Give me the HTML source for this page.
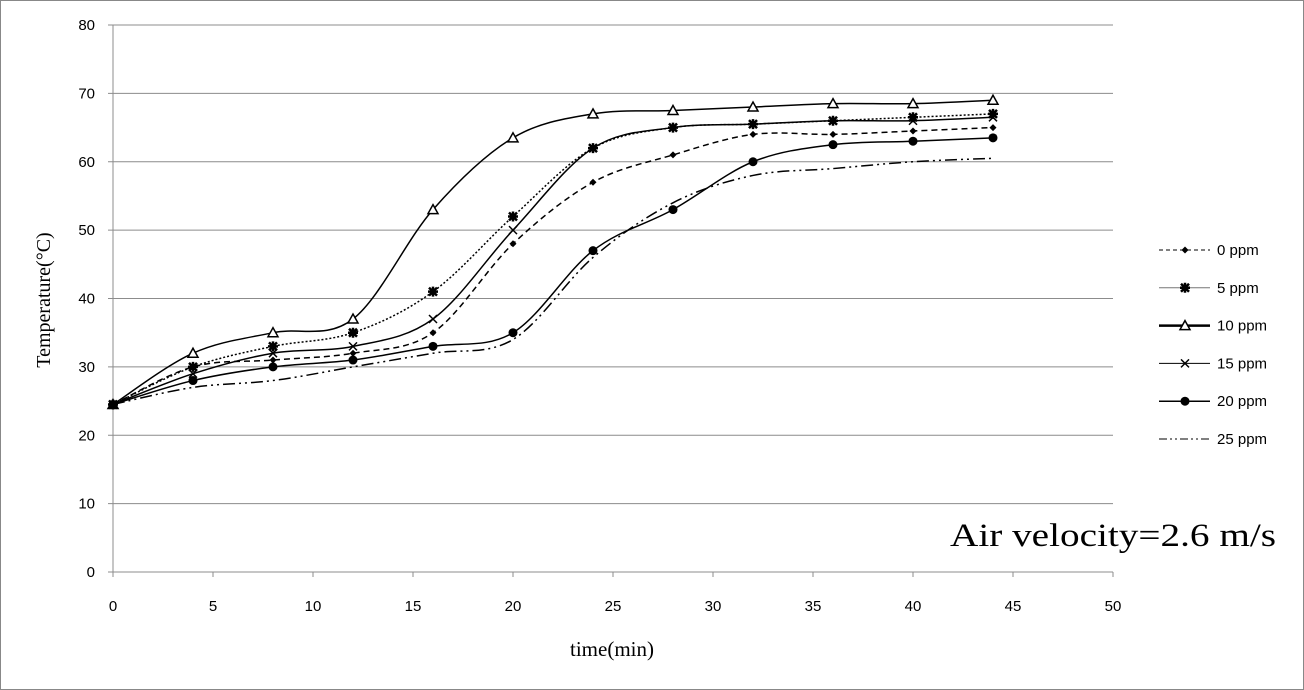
<!DOCTYPE html>
<html><head><meta charset="utf-8"><style>
html,body{margin:0;padding:0;background:#fff}
svg{display:block}
.t{font-family:"Liberation Sans",sans-serif;font-size:15px;fill:#000}
.s{font-family:"Liberation Serif",serif;fill:#000}
</style></head><body>
<svg id="c" width="1304" height="690" xmlns="http://www.w3.org/2000/svg">
<rect x="0.5" y="0.5" width="1303" height="689" fill="#fff" stroke="#888"/>
<g id="grid"></g><g id="axes"></g><g id="series"></g><g id="legend"></g>
<text class="s" x="612" y="656" font-size="21" text-anchor="middle">time(min)</text>
<text class="s" x="50" y="300" font-size="20" text-anchor="middle" transform="rotate(-90 50 300)">Temperature(°C)</text>
<text class="s" x="950" y="546" font-size="33" textLength="326" lengthAdjust="spacingAndGlyphs">Air velocity=2.6 m/s</text>
</svg>
<script>
const times=[0,4,8,12,16,20,24,28,32,36,40,44];
const s0=[24.5,30,31,32,35,48,57,61,64,64,64.5,65];
const s5=[24.5,30,33,35,41,52,62,65,65.5,66,66.5,67];
const s10=[24.5,32,35,37,53,63.5,67,67.5,68,68.5,68.5,69];
const s15=[24.5,29,32,33,37,50,62,65,65.5,66,66,66.5];
const s20=[24.5,28,30,31,33,35,47,53,60,62.5,63,63.5];
const s25=[24.5,27,28,30,32,34,46,54,58,59,60,60.5];
const seriesNames=["0 ppm","5 ppm","10 ppm","15 ppm","20 ppm","25 ppm"];
const xTicks=[0,5,10,15,20,25,30,35,40,45,50];
const yTicks=[0,10,20,30,40,50,60,70,80];
const NS="http://www.w3.org/2000/svg";
const X=v=>113+v*20, Y=v=>572-v*547/80;
function mk(tag,attrs,parent){const e=document.createElementNS(NS,tag);for(const k in attrs)e.setAttribute(k,attrs[k]);parent.appendChild(e);return e;}
const grid=document.getElementById('grid'),axes=document.getElementById('axes'),ser=document.getElementById('series'),leg=document.getElementById('legend');
yTicks.forEach(v=>{
 if(v>0){const l=mk('line',{x1:113,x2:1113,y1:Y(v),y2:Y(v),stroke:'#8c8c8c','stroke-width':1},grid);
 
 }
 const tk=mk('line',{x1:108,x2:113,y1:Y(v),y2:Y(v),stroke:'#8c8c8c'},axes);
 
 
 const t=mk('text',{x:95,y:Y(v)+5,'text-anchor':'end',class:'t'},axes);t.textContent=v;
 
 
});
xTicks.forEach(v=>{
 const tk=mk('line',{x1:X(v),x2:X(v),y1:572,y2:577,stroke:'#8c8c8c'},axes);
 
 
 const t=mk('text',{x:X(v),y:611,'text-anchor':'middle',class:'t'},axes);t.textContent=v;
 
 
});
const ya=mk('line',{x1:113,x2:113,y1:Y(80),y2:572,stroke:'#8c8c8c'},axes);


const xa=mk('line',{x1:113,x2:1113,y1:572,y2:572,stroke:'#8c8c8c'},axes);


function smooth(pts){let d=`M${pts[0][0]},${pts[0][1]}`;for(let i=0;i<pts.length-1;i++){const p0=pts[i-1]||pts[i],p1=pts[i],p2=pts[i+1],p3=pts[i+2]||p2;const t=0.5/3*2;
 const c1=[p1[0]+(p2[0]-p0[0])*t/2,p1[1]+(p2[1]-p0[1])*t/2],c2=[p2[0]-(p3[0]-p1[0])*t/2,p2[1]-(p3[1]-p1[1])*t/2];
 d+=` C${c1[0]},${c1[1]} ${c2[0]},${c2[1]} ${p2[0]},${p2[1]}`;}return d;}
function marker(type,x,y,g){
 if(type==='diamond')return mk('path',{d:`M${x},${y-3.5}L${x+3.5},${y}L${x},${y+3.5}L${x-3.5},${y}Z`,fill:'#000'},g);
 if(type==='star'){const p=mk('g',{},g);mk('path',{d:`M${x-4},${y-4}L${x+4},${y+4}M${x+4},${y-4}L${x-4},${y+4}M${x},${y-5}L${x},${y+5}M${x-5},${y}L${x+5},${y}`,stroke:'#000','stroke-width':2.5},p);return p;}
 if(type==='tri')return mk('path',{d:`M${x},${y-5}L${x+5},${y+4}L${x-5},${y+4}Z`,fill:'#fff',stroke:'#000','stroke-width':1.5},g);
 if(type==='x')return mk('path',{d:`M${x-4},${y-4}L${x+4},${y+4}M${x+4},${y-4}L${x-4},${y+4}`,stroke:'#000','stroke-width':1.5},g);
 if(type==='circle')return mk('circle',{cx:x,cy:y,r:4.5,fill:'#000'},g);
 return null;}
const data=[s0,s5,s10,s15,s20,s25];
const dashes=['6,4','2,2','','','','12,4,2,4,2,4'];
const widths=[1.5,1.5,1.5,1.5,1.5,1.5];
const marks=['diamond','star','tri','x','circle',null];
const legDash=['4,3','','','','','8,3,2,3,2,3'];
const legW=[1,1,2.5,1,1.5,1];
data.forEach((arr,si)=>{
 const g=mk('g',{},ser);
 
 
 const pts=arr.map((v,i)=>[X(times[i]),Y(v)]);
 const p=mk('path',{d:smooth(pts),fill:'none',stroke:'#000','stroke-width':widths[si]},g);
 if(dashes[si])p.setAttribute('stroke-dasharray',dashes[si]);
 
 
 if(marks[si])pts.forEach(q=>{const m=marker(marks[si],q[0],q[1],g);
  
  });
 const ly=250+si*37.8;
 const lg=mk('g',{},leg);
 
 
 const ll=mk('line',{x1:1159,x2:1210,y1:ly,y2:ly,stroke:si===1?'#777':'#000','stroke-width':legW[si]},lg);
 if(legDash[si])ll.setAttribute('stroke-dasharray',legDash[si]);
 if(marks[si])marker(marks[si],1185,ly,lg);
 const lt=mk('text',{x:1217,y:ly+5,class:'t'},lg);lt.textContent=seriesNames[si];
});
</script>
</body></html>
